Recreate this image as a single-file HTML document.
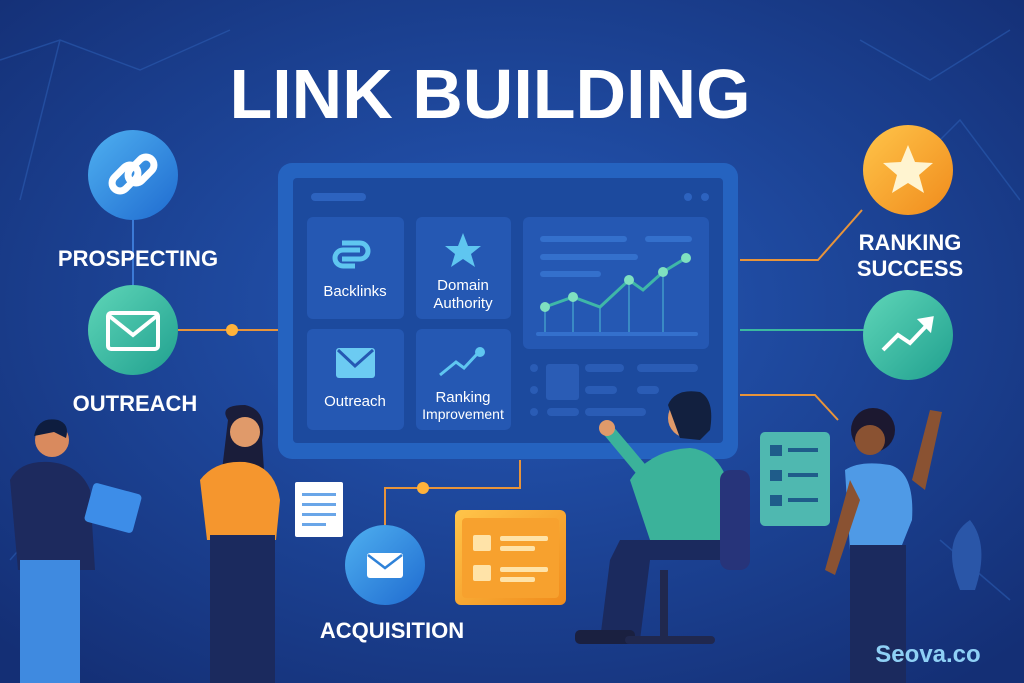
<!DOCTYPE html>
<html><head><meta charset="utf-8"><style>
html,body{margin:0;padding:0;width:1024px;height:683px;overflow:hidden;background:#173b8a;}
svg text{font-family:"Liberation Sans",sans-serif;}
</style></head><body>
<svg width="1024" height="683" viewBox="0 0 1024 683" xmlns="http://www.w3.org/2000/svg">
<defs>
<radialGradient id="bg" cx="0.5" cy="0.45" r="0.7">
<stop offset="0" stop-color="#2559b8"/><stop offset="1" stop-color="#142f75"/></radialGradient>
<linearGradient id="blue" x1="0" y1="0" x2="1" y2="1"><stop offset="0" stop-color="#4fb0f0"/><stop offset="1" stop-color="#1f6bd0"/></linearGradient>
<linearGradient id="teal" x1="0" y1="0" x2="1" y2="1"><stop offset="0" stop-color="#5fd6b8"/><stop offset="1" stop-color="#20a08f"/></linearGradient>
<linearGradient id="orange" x1="0" y1="0" x2="1" y2="1"><stop offset="0" stop-color="#ffc54a"/><stop offset="1" stop-color="#f08b1c"/></linearGradient>
</defs>
<rect width="1024" height="683" fill="url(#bg)"/>
<g stroke="#2c5bb0" stroke-width="1.5" opacity="0.6" fill="none">
<path d="M0 60 L60 40 L140 70 L230 30 M20 200 L60 40 M860 40 L930 80 L1010 30 M900 180 L960 120 L1020 200 M10 560 L80 480 M940 540 L1010 600"/>
</g>
<!-- title -->
<text x="490" y="118" text-anchor="middle" font-size="70" font-weight="bold" fill="#fff">LINK BUILDING</text>
<!-- connectors -->
<g fill="none" stroke-width="2">
<path d="M178 330 H278" stroke="#e8943a"/>
<path d="M740 260 H818 L862 210" stroke="#e8943a"/>
<path d="M740 330 H864" stroke="#3bb9a0"/>
<path d="M740 395 H815 L838 420" stroke="#e8943a"/>
<path d="M385 525 V488 H520 V460" stroke="#e8943a"/>
<path d="M133 220 V290" stroke="#3c7ad6"/>
</g>
<circle cx="232" cy="330" r="6" fill="#ffb23a"/>
<circle cx="423" cy="488" r="6" fill="#ffb23a"/>
<!-- left circles -->
<circle cx="133" cy="175" r="45" fill="url(#blue)"/>
<g stroke="#fff" stroke-width="7" fill="none" stroke-linecap="round">
<rect x="110" y="170" width="30" height="16" rx="8" transform="rotate(-45 125 178)"/>
<rect x="126" y="162" width="30" height="16" rx="8" transform="rotate(-45 141 170)"/>
</g>
<text x="138" y="266" text-anchor="middle" font-size="22" font-weight="bold" fill="#fff">PROSPECTING</text>
<circle cx="133" cy="330" r="45" fill="url(#teal)"/>
<rect x="108" y="313" width="50" height="36" rx="3" fill="none" stroke="#fff" stroke-width="4"/>
<path d="M108 315 L133 335 L158 315" fill="none" stroke="#fff" stroke-width="4"/>
<text x="135" y="411" text-anchor="middle" font-size="22" font-weight="bold" fill="#fff">OUTREACH</text>
<!-- right circles -->
<circle cx="908" cy="170" r="45" fill="url(#orange)"/>
<path d="M908 145 L915 162 L933 163 L919 175 L924 193 L908 183 L892 193 L897 175 L883 163 L901 162 Z" fill="#fff4d0"/>
<text x="910" y="250" text-anchor="middle" font-size="22" font-weight="bold" fill="#fff">RANKING</text>
<text x="910" y="276" text-anchor="middle" font-size="22" font-weight="bold" fill="#fff">SUCCESS</text>
<circle cx="908" cy="335" r="45" fill="url(#teal)"/>
<path d="M883 350 L898 335 L910 343 L930 322" fill="none" stroke="#fff" stroke-width="4"/>
<path d="M920 320 L932 318 L930 330 Z" fill="#fff" stroke="#fff" stroke-width="3"/>
<!-- monitor -->
<rect x="278" y="163" width="460" height="296" rx="14" fill="#2563c0"/>
<rect x="293" y="178" width="430" height="265" rx="4" fill="#1c4a9e"/>
<rect x="311" y="193" width="55" height="8" rx="4" fill="#2d63bf"/>
<circle cx="688" cy="197" r="4" fill="#2d63bf"/><circle cx="705" cy="197" r="4" fill="#2d63bf"/>
<g fill="#2558b3">
<rect x="307" y="217" width="97" height="102" rx="6"/>
<rect x="416" y="217" width="95" height="102" rx="6"/>
<rect x="307" y="329" width="97" height="101" rx="6"/>
<rect x="416" y="329" width="95" height="101" rx="6"/>
<rect x="523" y="217" width="186" height="132" rx="6"/>
</g>
<path d="M342 243 H360 A8 8 0 0 1 360 259 H342 M355 266 H343 A8 8 0 0 1 343 250 H360" fill="none" stroke="#5fc6f0" stroke-width="5"/>
<text x="355" y="296" text-anchor="middle" font-size="15" fill="#fff">Backlinks</text>
<path d="M463 233 L468 246 L481 246 L471 254 L475 267 L463 259 L451 267 L455 254 L445 246 L458 246 Z" fill="#5fc6f0"/>
<text x="463" y="290" text-anchor="middle" font-size="15" fill="#fff">Domain</text>
<text x="463" y="308" text-anchor="middle" font-size="15" fill="#fff">Authority</text>
<rect x="336" y="348" width="39" height="30" rx="3" fill="#6ccbf2"/>
<path d="M338 350 L355 366 L373 350" fill="none" stroke="#2558b3" stroke-width="3"/>
<text x="355" y="406" text-anchor="middle" font-size="15" fill="#fff">Outreach</text>
<path d="M440 375 L456 362 L464 368 L478 353" fill="none" stroke="#5fc6f0" stroke-width="3"/>
<circle cx="480" cy="352" r="5" fill="#5fc6f0"/>
<text x="463" y="402" text-anchor="middle" font-size="15" fill="#fff">Ranking</text>
<text x="463" y="419" text-anchor="middle" font-size="14" fill="#fff">Improvement</text>
<g fill="#3470cc">
<rect x="540" y="236" width="87" height="6" rx="3"/><rect x="645" y="236" width="47" height="6" rx="3"/>
<rect x="540" y="254" width="98" height="6" rx="3"/><rect x="540" y="271" width="61" height="6" rx="3"/>
<rect x="536" y="332" width="162" height="4" rx="2"/>
</g>
<g stroke="#3a8ac4" stroke-width="2"><path d="M545 307V332M573 297V332M600 307V332M629 280V332M663 272V332"/></g>
<path d="M545 307 L573 297 L600 307 L629 280 L643 290 L663 272 L686 258" fill="none" stroke="#3fb7a8" stroke-width="3"/>
<g fill="#7fe0c0"><circle cx="545" cy="307" r="5"/><circle cx="573" cy="297" r="5"/><circle cx="629" cy="280" r="5"/><circle cx="663" cy="272" r="5"/><circle cx="686" cy="258" r="5"/></g>
<g fill="#2a5cb5">
<circle cx="534" cy="368" r="4"/><circle cx="534" cy="390" r="4"/><circle cx="534" cy="412" r="4"/>
<rect x="546" y="364" width="33" height="36" rx="3"/>
<rect x="585" y="364" width="39" height="8" rx="4"/><rect x="637" y="364" width="61" height="8" rx="4"/>
<rect x="585" y="386" width="32" height="8" rx="4"/><rect x="637" y="386" width="22" height="8" rx="4"/>
<rect x="547" y="408" width="32" height="8" rx="4"/><rect x="585" y="408" width="61" height="8" rx="4"/>
</g>
<!-- acquisition -->
<circle cx="385" cy="565" r="40" fill="url(#blue)"/>
<rect x="367" y="553" width="36" height="25" rx="3" fill="#fff"/>
<path d="M368 555 L385 568 L402 555" fill="none" stroke="#2f82d8" stroke-width="2.5"/>
<text x="392" y="638" text-anchor="middle" font-size="22" font-weight="bold" fill="#fff">ACQUISITION</text>
<rect x="455" y="510" width="111" height="95" rx="6" fill="url(#orange)"/>
<rect x="462" y="518" width="97" height="80" rx="4" fill="#f7a12e"/>
<g fill="#ffe3a8"><rect x="473" y="535" width="18" height="16" rx="2"/><rect x="473" y="565" width="18" height="16" rx="2"/>
<rect x="500" y="536" width="48" height="5" rx="2"/><rect x="500" y="546" width="35" height="5" rx="2"/>
<rect x="500" y="567" width="48" height="5" rx="2"/><rect x="500" y="577" width="35" height="5" rx="2"/></g>
<!-- clipboard right -->
<rect x="760" y="432" width="70" height="94" rx="5" fill="#4fb8b0"/>
<g fill="#1f5c8a"><rect x="770" y="445" width="12" height="11"/><rect x="770" y="470" width="12" height="11"/><rect x="770" y="495" width="12" height="11"/>
<rect x="788" y="448" width="30" height="4"/><rect x="788" y="473" width="30" height="4"/><rect x="788" y="498" width="30" height="4"/></g>
<!-- person 1 left -->
<circle cx="52" cy="440" r="17" fill="#d98a5e"/><path d="M34 436 Q38 416 58 420 Q70 424 66 438 L54 432 Z" fill="#0e1d3f"/>
<path d="M10 480 Q20 460 50 462 Q80 465 90 490 L95 570 L18 570 Z" fill="#1d2a5e"/>
<rect x="20" y="560" width="60" height="123" fill="#3f8ae0"/>
<rect x="88" y="488" width="50" height="40" rx="4" fill="#3d8de8" transform="rotate(15 113 508)"/>
<!-- person 2 woman -->
<path d="M228 420 Q218 405 245 405 Q268 410 262 440 L264 470 L222 470 Z" fill="#1a1d3a"/>
<circle cx="245" cy="432" r="15" fill="#e09a6a"/>
<path d="M200 480 Q215 460 245 462 Q275 466 280 500 L276 540 L207 540 Z" fill="#f5962e"/>
<rect x="210" y="535" width="65" height="148" fill="#1b2a5e"/>
<rect x="295" y="482" width="48" height="55" rx="2" fill="#fff"/>
<g fill="#6aa6e8"><rect x="302" y="493" width="34" height="3"/><rect x="302" y="503" width="34" height="3"/><rect x="302" y="513" width="34" height="3"/><rect x="302" y="523" width="24" height="3"/></g>
<!-- person 3 seated man -->
<circle cx="688" cy="418" r="20" fill="#e09a6a"/>
<path d="M668 405 Q675 388 700 392 Q715 400 710 430 L700 440 L680 438 Z" fill="#12203f"/>
<path d="M630 480 Q650 450 690 448 Q725 452 732 500 L735 540 L650 540 Z" fill="#3bb29a"/>
<path d="M600 430 L640 478 L650 470 L612 425 Z" fill="#3bb29a"/>
<circle cx="607" cy="428" r="8" fill="#e09a6a"/>
<rect x="720" y="470" width="30" height="100" rx="10" fill="#27347a"/>
<path d="M620 540 H720 V560 H650 L640 640 H600 L610 560 Z" fill="#1b2a5e"/>
<rect x="575" y="630" width="60" height="14" rx="5" fill="#1a2040"/>
<rect x="660" y="570" width="8" height="70" fill="#20284e"/>
<rect x="625" y="636" width="90" height="8" rx="4" fill="#20284e"/>
<!-- person 4 woman right -->
<circle cx="873" cy="430" r="22" fill="#1c1830"/>
<circle cx="870" cy="440" r="15" fill="#8a5232"/>
<path d="M845 470 Q860 460 890 465 Q915 472 912 520 L900 550 L850 550 Z" fill="#4f9ae6"/>
<path d="M912 480 L930 410 L942 412 L925 490 Z" fill="#8a5232"/>
<rect x="850" y="545" width="56" height="138" fill="#1b2a5e"/>
<path d="M850 480 L825 570 L835 575 L860 500 Z" fill="#8a5232"/>
<!-- plants hint -->
<path d="M960 590 Q940 540 970 520 Q990 545 975 590 Z" fill="#2a56a8"/>
<text x="928" y="662" text-anchor="middle" font-size="24" font-weight="bold" fill="#8fd0f5">Seova.co</text>
</svg>
</body></html>
